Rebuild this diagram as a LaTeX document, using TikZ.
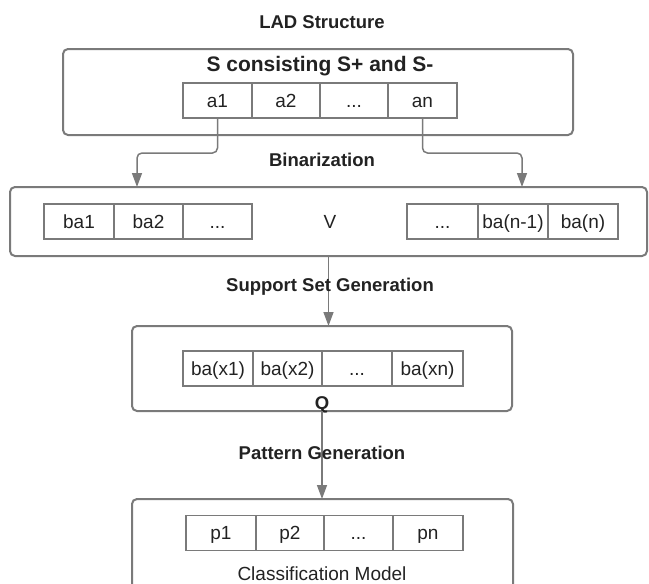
\documentclass[tikz,border=0pt]{standalone}
\usepackage{fontspec}
\setmainfont{Liberation Sans}
\usetikzlibrary{arrows.meta,calc}
\definecolor{linegray}{HTML}{7A7A7A}
\definecolor{txt}{HTML}{222222}
\begin{document}
\begin{tikzpicture}[x=1pt,y=-1pt,
  bigbox/.style={draw=linegray,line width=2pt,rounded corners=5pt,inner sep=0pt,outer sep=0pt},
  cell/.style={draw=linegray,line width=1.8pt,inner sep=0pt,outer sep=0pt,minimum height=35pt,text=txt,font=\fontsize{19}{22}\selectfont,text height=13.6pt,text depth=0pt},
  lbl/.style={text=txt,font=\fontsize{18.5}{22}\selectfont\bfseries,inner sep=0pt,text height=13.2pt,text depth=0pt},
  plain/.style={text=txt,font=\fontsize{19}{22}\selectfont,inner sep=0pt,text height=13.6pt,text depth=0pt},
  arr/.style={draw=linegray,line width=1.5pt,rounded corners=5pt,-{Triangle[width=10pt,length=14pt]}}
]
\useasboundingbox (0,0) rectangle (649,584);
% big boxes
\node[bigbox,minimum width=510pt,minimum height=86pt] (b1) at (318,92) {};
\node[bigbox,minimum width=637pt,minimum height=69pt] (b2) at (328.5,221.5) {};
\node[bigbox,minimum width=380pt,minimum height=85pt] (b3) at (322,368.5) {};
\node[bigbox,minimum width=381pt,minimum height=100pt] (b4) at (322.5,549) {};
% titles
\node[lbl] (title) at (322,22) {LAD Structure};
\node[text=txt,font=\fontsize{21}{24}\selectfont\bfseries,inner sep=0pt,text height=15pt,text depth=0pt] (s) at (320,64) {S consisting S+ and S-};
% box 1 cells
\node[cell,minimum width=69pt] (a1) at (217.5,100.5) {a1};
\node[cell,minimum width=68pt] (a2) at (286,100.5) {a2};
\node[cell,minimum width=68pt] (a3) at (354,100.5) {...};
\node[cell,minimum width=69pt] (an) at (422.5,100.5) {an};
% box 2 cells
\node[cell,minimum width=70pt] (ba1) at (79,221.5) {ba1};
\node[cell,minimum width=69pt] (ba2) at (148.5,221.5) {ba2};
\node[cell,minimum width=69pt] (ba3) at (217.5,221.5) {...};
\node[plain] (v) at (330,222) {V};
\node[cell,minimum width=71pt] (bb1) at (442.5,221.5) {...};
\node[cell,minimum width=70pt] (bb2) at (513,221.5) {ba(n-1)};
\node[cell,minimum width=70pt] (bb3) at (583,221.5) {ba(n)};
% box 3 cells
\node[cell,minimum width=70pt] (x1) at (218,368.5) {ba(x1)};
\node[cell,minimum width=69pt] (x2) at (287.5,368.5) {ba(x2)};
\node[cell,minimum width=70pt] (x3) at (357,368.5) {...};
\node[cell,minimum width=71pt] (xn) at (427.5,368.5) {ba(xn)};
\node[lbl] (q) at (322,403) {Q};
% box 4 cells
\node[cell,minimum width=70pt] (p1) at (221,533) {p1};
\node[cell,minimum width=68pt] (p2) at (290,533) {p2};
\node[cell,minimum width=69pt] (p3) at (358.5,533) {...};
\node[cell,minimum width=70pt] (pn) at (428,533) {pn};
\node[plain] (cm) at (322,574) {Classification Model};
% connectors
\coordinate (h1) at (0,153);
\coordinate (t1) at (137,187);
\coordinate (t2) at (522,187);
\draw[arr] (a1.south) -- (a1.south |- h1) -| (t1);
\draw[arr] (an.south) -- (an.south |- h1) -| (t2);
\draw[arr] (b2.south) -- (b2.south |- b3.north);
\draw[arr] (b3.south) -- (b3.south |- b4.north);
% step labels
\node[lbl] (bin) at (322,160) {Binarization};
\node[lbl] (ssg) at (330,285) {Support Set Generation};
\node[lbl] (pg) at (322,453) {Pattern Generation};
\end{tikzpicture}
\end{document}
